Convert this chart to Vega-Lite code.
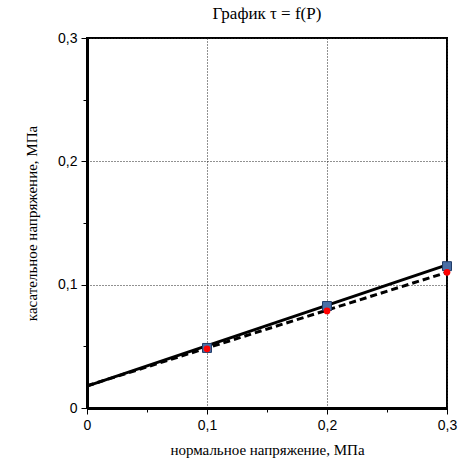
{
  "$schema": "https://vega.github.io/schema/vega-lite/v6.json",
  "autosize": "none",
  "padding": {"left": 87, "top": 38, "right": 15, "bottom": 56},
  "width": 360,
  "height": 370,
  "background": "white",
  "title": {"text": "График τ = f(P)", "font": "Liberation Serif", "fontSize": 17, "fontWeight": "normal", "color": "black", "offset": 8, "anchor": "middle"},
  "config": {
    "view": {"stroke": "black", "strokeWidth": 2},
    "axis": {
      "domainColor": "black", "domainWidth": 3, "tickColor": "black",
      "labelFont": "Liberation Sans", "labelFontSize": 14, "labelColor": "black",
      "titleFont": "Liberation Serif", "titleFontSize": 15, "titleFontWeight": "normal", "titleColor": "black",
      "gridColor": "#222222", "gridWidth": 1
    }
  },
  "datasets": {
    "lines": [
      {"P": 0, "tau": 0.0178, "series": "solid"},
      {"P": 0.3, "tau": 0.116, "series": "solid"},
      {"P": 0, "tau": 0.018, "series": "dashed"},
      {"P": 0.3, "tau": 0.110, "series": "dashed"}
    ],
    "points": [
      {"P": 0.1, "tau": 0.0487, "series": "blue"},
      {"P": 0.2, "tau": 0.0827, "series": "blue"},
      {"P": 0.3, "tau": 0.115, "series": "blue"},
      {"P": 0.1, "tau": 0.048, "series": "red"},
      {"P": 0.2, "tau": 0.0787, "series": "red"},
      {"P": 0.3, "tau": 0.110, "series": "red"}
    ]
  },
  "encoding": {
    "x": {
      "field": "P", "type": "quantitative",
      "scale": {"domain": [0, 0.3], "nice": false},
      "axis": {
        "title": "нормальное напряжение, МПа", "titlePadding": 10,
        "values": [0, 0.05, 0.1, 0.15, 0.2, 0.25, 0.3],
        "labelExpr": "round(datum.value*20)%2==1 ? '' : (datum.value==0 ? '0' : replace(format(datum.value,'.1f'),'.',','))",
        "tickSize": {"condition": {"test": "round(datum.value*20)%2==1", "value": 4}, "value": 6},
        "gridOpacity": {"condition": {"test": "round(datum.value*20)%2==1", "value": 0}, "value": 1},
        "gridDash": [1, 2],
        "labelPadding": 4,
        "labelFlush": false
      }
    },
    "y": {
      "field": "tau", "type": "quantitative",
      "scale": {"domain": [0, 0.3], "nice": false},
      "axis": {
        "title": "касательное напряжение, МПа", "titlePadding": 18,
        "values": [0, 0.05, 0.1, 0.15, 0.2, 0.25, 0.3],
        "labelExpr": "round(datum.value*20)%2==1 ? '' : (datum.value==0 ? '0' : replace(format(datum.value,'.1f'),'.',','))",
        "tickSize": {"condition": {"test": "round(datum.value*20)%2==1", "value": 4}, "value": 6},
        "gridOpacity": {"condition": {"test": "round(datum.value*20)%2==1", "value": 0}, "value": 1},
        "gridDash": [1, 2],
        "labelPadding": 4,
        "labelFlush": false
      }
    }
  },
  "layer": [
    {
      "data": {"name": "lines"},
      "transform": [{"filter": "datum.series == 'dashed'"}],
      "mark": {"type": "line", "color": "black", "strokeWidth": 3, "strokeDash": [7, 4]}
    },
    {
      "data": {"name": "lines"},
      "transform": [{"filter": "datum.series == 'solid'"}],
      "mark": {"type": "line", "color": "black", "strokeWidth": 3}
    },
    {
      "data": {"name": "points"},
      "transform": [{"filter": "datum.series == 'blue'"}],
      "mark": {"type": "point", "shape": "square", "filled": true, "size": 80, "color": "#4a6fa5", "stroke": "#1f3a66", "strokeWidth": 1, "opacity": 1, "clip": false}
    },
    {
      "data": {"name": "points"},
      "transform": [{"filter": "datum.series == 'red'"}],
      "mark": {"type": "point", "shape": "circle", "filled": true, "size": 45, "color": "#ff0000", "opacity": 1, "clip": false}
    }
  ]
}
